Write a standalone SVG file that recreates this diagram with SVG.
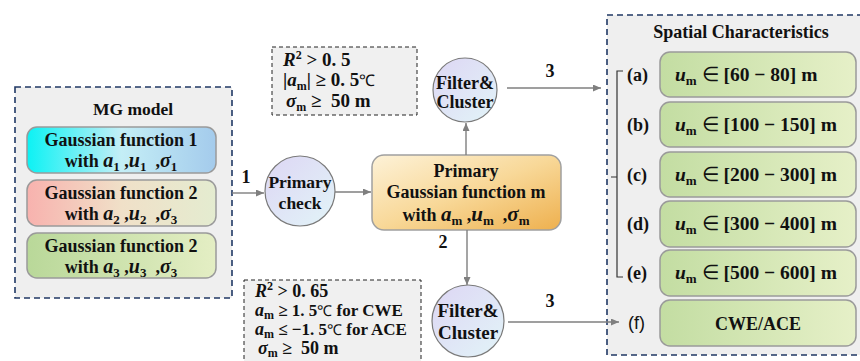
<svg xmlns="http://www.w3.org/2000/svg" width="860" height="361" viewBox="0 0 860 361">
<defs>
<linearGradient id="g1" x1="0" y1="0" x2="1" y2="0"><stop offset="0" stop-color="#0cf2f4"/><stop offset="0.5" stop-color="#c4eef6"/><stop offset="1" stop-color="#a4cbec"/></linearGradient>
<linearGradient id="g2" x1="0" y1="0" x2="1" y2="0"><stop offset="0" stop-color="#f8b2ae"/><stop offset="0.5" stop-color="#f0e0c8"/><stop offset="1" stop-color="#e4ecd0"/></linearGradient>
<linearGradient id="g3" x1="0" y1="0" x2="1" y2="0"><stop offset="0" stop-color="#b9d899"/><stop offset="1" stop-color="#e4eec4"/></linearGradient>
<linearGradient id="gg" x1="0" y1="0" x2="1" y2="0"><stop offset="0" stop-color="#c3dda2"/><stop offset="1" stop-color="#e6f0c8"/></linearGradient>
<linearGradient id="gp" x1="0" y1="0" x2="1" y2="1"><stop offset="0" stop-color="#fdf2d8"/><stop offset="0.5" stop-color="#f8d898"/><stop offset="1" stop-color="#eeb04e"/></linearGradient>
<linearGradient id="gc" x1="0" y1="0" x2="1" y2="1"><stop offset="0" stop-color="#ddd6f4"/><stop offset="1" stop-color="#e2f4f8"/></linearGradient>
<marker id="ah" markerWidth="8" markerHeight="7" refX="8" refY="3.5" orient="auto" markerUnits="userSpaceOnUse"><path d="M0,0 L8,3.5 L0,7 z" fill="#7f7f7f"/></marker>
<style>
text{font-family:"Liberation Serif","Times New Roman",serif;font-weight:bold;fill:#111;white-space:pre;}
.t{font-size:18px;text-anchor:middle;}
.m{font-style:italic;}
.panel{fill:#efefef;stroke:#203864;stroke-width:1.6;stroke-dasharray:6 4;}
.cond{fill:#f0f0f0;stroke:#222;stroke-width:1;stroke-dasharray:4 3;}
.gbox{stroke:#9a9a9a;stroke-width:1.5;}
.circ{fill:url(#gc);stroke:#7a7a7a;stroke-width:1.2;}
.conn{stroke:#7f7f7f;stroke-width:1.4;fill:none;}
.c{font-size:19px;}
.g{font-size:19.5px;}
.lab{font-size:18px;}
</style>
</defs>

<g id="mg-model">
<rect class="panel" x="15" y="87" width="217" height="211"/>
<text class="t" x="133" y="115" style="font-size:17.5px">MG model</text>
</g>
<g id="gauss1">
<rect class="gbox" x="27" y="127" width="189" height="46" rx="10" fill="url(#g1)"/>
<text class="t" x="121" y="146">Gaussian function 1</text>
<text class="t" x="121" y="167">with <tspan class="m" font-size="20">a</tspan><tspan dy="4" font-size="13">1</tspan><tspan dy="-4"> ,</tspan><tspan class="m" font-size="20">u</tspan><tspan dy="4" font-size="13">1</tspan><tspan dy="-4">  ,</tspan><tspan class="m" font-size="20">σ</tspan><tspan dy="4" font-size="13">1</tspan></text>
</g>
<g id="gauss2">
<rect class="gbox" x="27" y="180" width="189" height="46" rx="10" fill="url(#g2)"/>
<text class="t" x="121" y="199">Gaussian function 2</text>
<text class="t" x="121" y="220">with <tspan class="m" font-size="20">a</tspan><tspan dy="4" font-size="13">2</tspan><tspan dy="-4"> ,</tspan><tspan class="m" font-size="20">u</tspan><tspan dy="4" font-size="13">2</tspan><tspan dy="-4">  ,</tspan><tspan class="m" font-size="20">σ</tspan><tspan dy="4" font-size="13">3</tspan></text>
</g>
<g id="gauss3">
<rect class="gbox" x="27" y="233" width="189" height="45" rx="10" fill="url(#g3)"/>
<text class="t" x="121" y="252">Gaussian function 2</text>
<text class="t" x="121" y="273">with <tspan class="m" font-size="20">a</tspan><tspan dy="4" font-size="13">3</tspan><tspan dy="-4"> ,</tspan><tspan class="m" font-size="20">u</tspan><tspan dy="4" font-size="13">3</tspan><tspan dy="-4">  ,</tspan><tspan class="m" font-size="20">σ</tspan><tspan dy="4" font-size="13">3</tspan></text>
</g>

<g id="primary-check">
<circle class="circ" cx="300" cy="191" r="35"/>
<text class="t" x="300" y="188" style="font-size:17.5px">Primary</text>
<text class="t" x="300" y="209" style="font-size:17.5px">check</text>
</g>

<g id="primary-gaussian">
<rect x="372" y="155" width="189" height="75" rx="12" fill="url(#gp)" stroke="#a0a0a0" stroke-width="1.5"/>
<text class="t" x="466" y="177">Primary</text>
<text class="t" x="466" y="198">Gaussian function m</text>
<text class="t" x="466" y="221">with <tspan class="m" font-size="21">a</tspan><tspan dy="4" font-size="13">m</tspan><tspan dy="-4"> ,</tspan><tspan class="m" font-size="21">u</tspan><tspan dy="4" font-size="13">m</tspan><tspan dy="-4">  ,</tspan><tspan class="m" font-size="21">σ</tspan><tspan dy="4" font-size="13">m</tspan></text>
</g>

<g id="cond-upper">
<rect class="cond" x="272" y="47" width="145" height="68"/>
<text class="c" x="283" y="66"><tspan class="m">R</tspan><tspan dy="-7" font-size="12">2</tspan><tspan dy="7"> &gt; 0. 5</tspan></text>
<text class="c" x="283" y="86">|<tspan class="m">a</tspan><tspan dy="4" font-size="12">m</tspan><tspan dy="-4">| ≥ 0. 5</tspan><tspan font-weight="normal" font-size="16">℃</tspan></text>
<text class="c" x="286" y="107"><tspan class="m">σ</tspan><tspan dy="4" font-size="12">m</tspan><tspan dy="-4"> ≥  50 m</tspan></text>
</g>

<g id="filter-upper">
<circle class="circ" cx="465" cy="90" r="32"/>
<text class="t" x="465" y="89">Filter&amp;</text>
<text class="t" x="465" y="108">Cluster</text>
</g>

<g id="cond-lower">
<rect class="cond" x="244" y="280" width="177" height="90"/>
<text class="c" x="255" y="297" style="font-size:18px"><tspan class="m">R</tspan><tspan dy="-7" font-size="12">2</tspan><tspan dy="7"> &gt; 0. 65</tspan></text>
<text x="255" y="316" style="font-size:17px"><tspan class="m" font-size="18">a</tspan><tspan dy="3" font-size="12">m</tspan><tspan dy="-3"> ≥ 1. 5</tspan><tspan font-weight="normal" font-size="15">℃</tspan> for CWE</text>
<text x="255" y="335" style="font-size:17px"><tspan class="m" font-size="18">a</tspan><tspan dy="3" font-size="12">m</tspan><tspan dy="-3"> ≤ −1. 5</tspan><tspan font-weight="normal" font-size="15">℃</tspan> for ACE</text>
<text class="c" x="258" y="354" style="font-size:18px"><tspan class="m">σ</tspan><tspan dy="3" font-size="12">m</tspan><tspan dy="-3"> ≥  50 m</tspan></text>
</g>

<g id="filter-lower">
<circle class="circ" cx="468" cy="321" r="36"/>
<text class="t" x="468" y="317" style="font-size:19px">Filter&amp;</text>
<text class="t" x="468" y="339" style="font-size:19px">Cluster</text>
</g>

<g id="spatial">
<rect class="panel" x="607" y="15" width="270" height="340"/>
<text class="t" x="741" y="38">Spatial Characteristics</text>
<path d="M623,71 H617 V277 H623 M617,177 H611" stroke="#333" stroke-width="1.2" fill="none"/>
</g>
<g id="sa">
<rect class="gbox" x="660" y="52" width="196" height="45" rx="10" fill="url(#gg)"/>
<text class="lab" x="627" y="81">(a)</text>
<text class="g" x="675" y="81"><tspan class="m">u</tspan><tspan dy="4" font-size="13">m</tspan><tspan dy="-4" font-weight="normal"> ∈ </tspan>[60 − 80] m</text>
</g>
<g id="sb">
<rect class="gbox" x="660" y="102" width="196" height="45" rx="10" fill="url(#gg)"/>
<text class="lab" x="627" y="131">(b)</text>
<text class="g" x="675" y="131"><tspan class="m">u</tspan><tspan dy="4" font-size="13">m</tspan><tspan dy="-4" font-weight="normal"> ∈ </tspan>[100 − 150] m</text>
</g>
<g id="sc">
<rect class="gbox" x="660" y="152" width="196" height="45" rx="10" fill="url(#gg)"/>
<text class="lab" x="627" y="181">(c)</text>
<text class="g" x="675" y="181"><tspan class="m">u</tspan><tspan dy="4" font-size="13">m</tspan><tspan dy="-4" font-weight="normal"> ∈ </tspan>[200 − 300] m</text>
</g>
<g id="sd">
<rect class="gbox" x="660" y="201" width="196" height="46" rx="10" fill="url(#gg)"/>
<text class="lab" x="627" y="230">(d)</text>
<text class="g" x="675" y="230"><tspan class="m">u</tspan><tspan dy="4" font-size="13">m</tspan><tspan dy="-4" font-weight="normal"> ∈ </tspan>[300 − 400] m</text>
</g>
<g id="se">
<rect class="gbox" x="660" y="250" width="196" height="46" rx="10" fill="url(#gg)"/>
<text class="lab" x="627" y="279">(e)</text>
<text class="g" x="675" y="279"><tspan class="m">u</tspan><tspan dy="4" font-size="13">m</tspan><tspan dy="-4" font-weight="normal"> ∈ </tspan>[500 − 600] m</text>
</g>
<g id="sf">
<rect class="gbox" x="660" y="300" width="196" height="46" rx="10" fill="url(#gg)"/>
<text x="628" y="329" style="font-size:18px;font-weight:normal;font-family:'Liberation Sans',Arial,sans-serif">(f)</text>
<text class="t" x="758" y="330">CWE/ACE</text>
</g>

<g id="connectors">
<line class="conn" x1="232" y1="193" x2="264" y2="193" marker-end="url(#ah)"/>
<text class="t" x="246" y="183">1</text>
<line class="conn" x1="335" y1="192" x2="371" y2="192" marker-end="url(#ah)"/>
<line class="conn" x1="466" y1="155" x2="466" y2="123" marker-end="url(#ah)"/>
<line class="conn" x1="467" y1="230" x2="467" y2="285" marker-end="url(#ah)"/>
<text class="t" x="443" y="248">2</text>
<line class="conn" x1="507" y1="88" x2="601" y2="88" marker-end="url(#ah)"/>
<text class="t" x="550" y="77">3</text>
<line class="conn" x1="508" y1="322" x2="619" y2="322" marker-end="url(#ah)"/>
<text class="t" x="550" y="307">3</text>
</g>
</svg>
